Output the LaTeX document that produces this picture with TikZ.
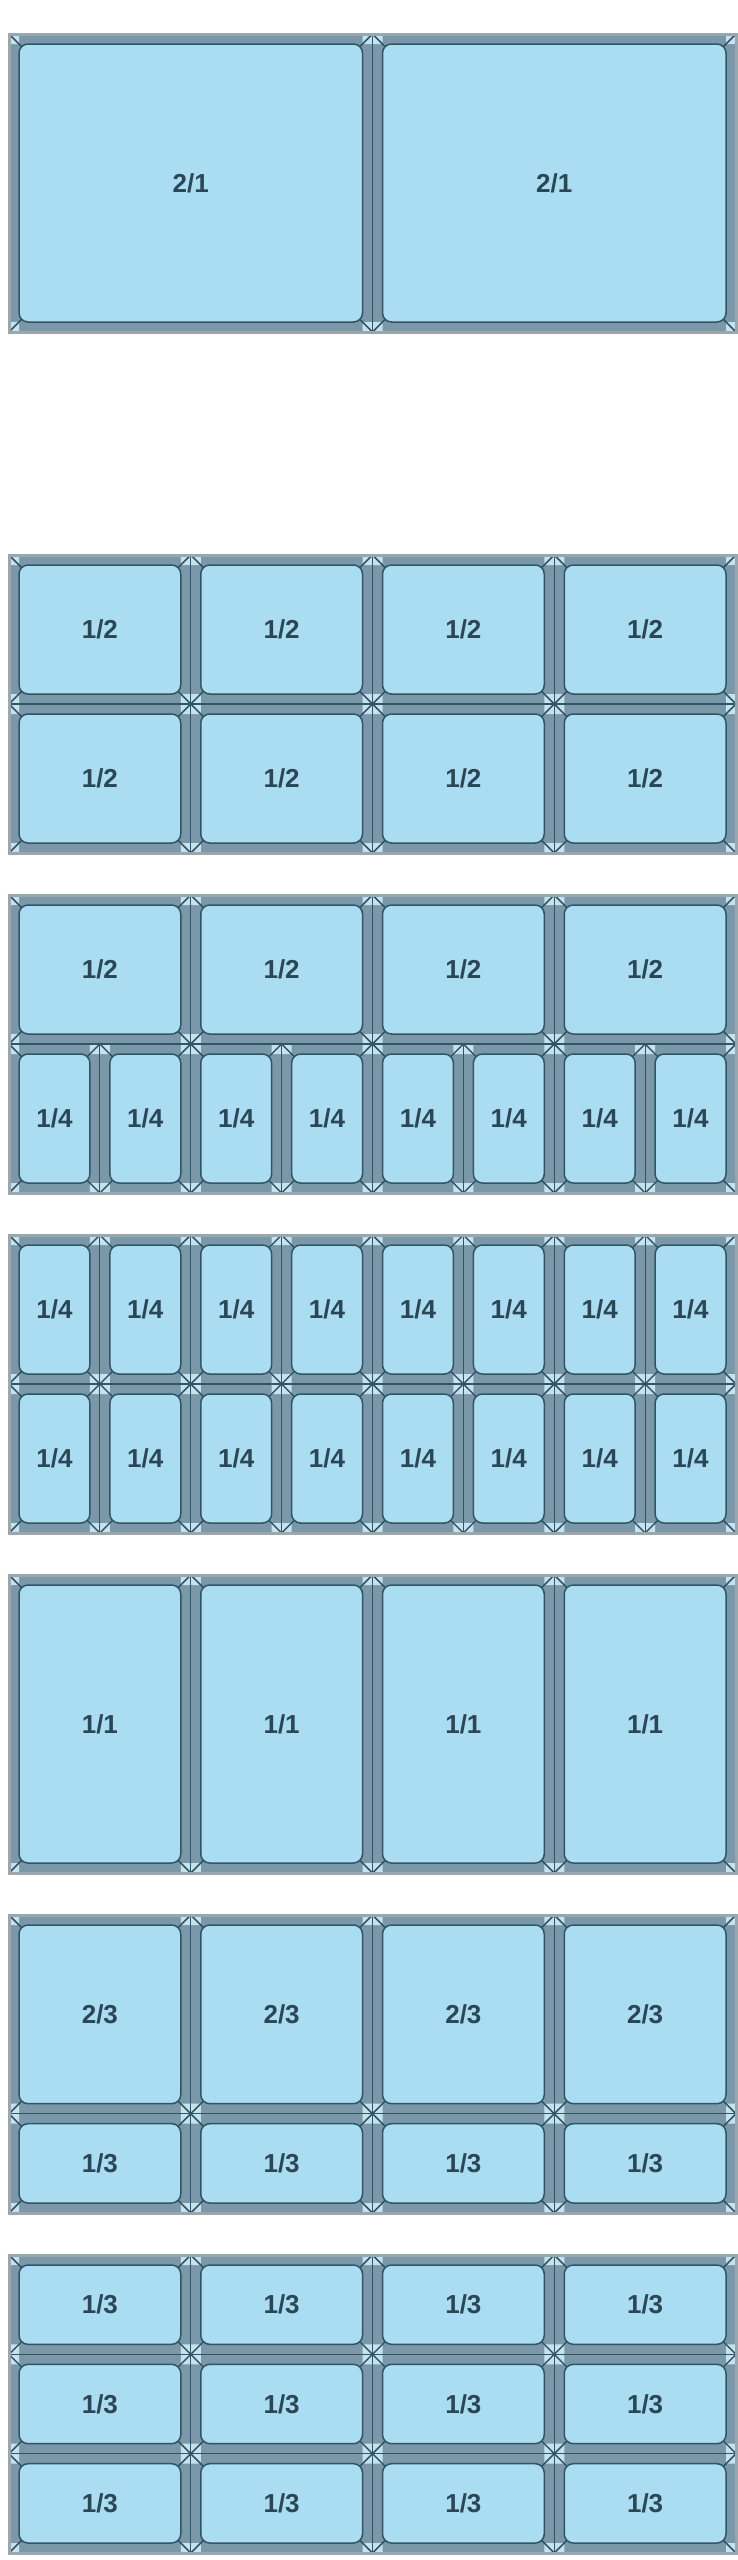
\documentclass[tikz,border=0pt]{standalone}
\usepackage{fontspec}
\setsansfont{Liberation Sans}

\definecolor{panblue}{HTML}{AADCF2}
\definecolor{rimgray}{HTML}{7B98A8}
\definecolor{flangelight}{HTML}{C6E2EE}
\definecolor{edgedark}{HTML}{2F5566}
\definecolor{edgegray}{HTML}{9AA7AE}
\definecolor{labelgray}{HTML}{2B4654}

\tikzset{every picture/.style={line width=0.75pt}}
\tikzset{
	rim/.style={fill=rimgray},
	flange/.style={fill=flangelight},
	cornerline/.style={draw=edgedark, line width=1.5pt},
	basin/.style={draw=edgedark, fill=panblue, line width=1.5pt, rounded corners=9pt},
	divider/.style={draw=edgedark, line width=1.2pt},
	blockframe/.style={draw=edgegray, line width=3pt},
	gnlabel/.style={font=\sffamily\bfseries\fontsize{26}{28}\selectfont, text=labelgray}
}

% one pan: x, y, width, height, label, node name
\newcommand{\gnpan}[6]{%
	\begin{scope}[shift={(#1,#2)}]
		\fill[rim] (0,0) rectangle (#3,#4);
		\fill[flange] (0,0) rectangle (10,10) (#3,0) rectangle ++(-10,10) (0,#4) rectangle ++(10,-10) (#3,#4) rectangle ++(-10,-10);
		\draw[cornerline] (0,0) -- (14,14) (#3,0) -- ++(-14,14) (0,#4) -- ++(14,-14) (#3,#4) -- ++(-14,-14);
		\draw[basin] (10,10) rectangle ({#3-10},{#4-10});
		\draw[divider] (0,0) rectangle (#3,#4);
		\node[gnlabel] (#6) at ({#3/2},{#4/2}) {#5};
	\end{scope}}

\begin{document}
\begin{tikzpicture}[x=1pt, y=-1pt]
	\fill[white] (0,0) rectangle (738,2560);
	\useasboundingbox (0,0) rectangle (738,2560);
	% 2/1
	\foreach \i in {0,1} \gnpan{9+\i*363.5}{34}{363.5}{298}{2/1}{a\i};
	\draw[blockframe] (9,34) rectangle (736,332);
	% 1/2 and 1/2
	\foreach \j in {0,1} \foreach \i in {0,...,3} \gnpan{9+\i*181.75}{555+\j*149}{181.75}{149}{1/2}{b\j\i};
	\draw[blockframe] (9,555) rectangle (736,853);
	% 1/2 and 1/4
	\foreach \i in {0,...,3} \gnpan{9+\i*181.75}{895}{181.75}{149}{1/2}{c\i};
	\foreach \i in {0,...,7} \gnpan{9+\i*90.875}{1044}{90.875}{149}{1/4}{d\i};
	\draw[blockframe] (9,895) rectangle (736,1193);
	% 1/4 and 1/4
	\foreach \j in {0,1} \foreach \i in {0,...,7} \gnpan{9+\i*90.875}{1235+\j*149}{90.875}{149}{1/4}{e\j\i};
	\draw[blockframe] (9,1235) rectangle (736,1533);
	% 1/1
	\foreach \i in {0,...,3} \gnpan{9+\i*181.75}{1575}{181.75}{298}{1/1}{f\i};
	\draw[blockframe] (9,1575) rectangle (736,1873);
	% 2/3 and 1/3
	\foreach \i in {0,...,3} \gnpan{9+\i*181.75}{1915}{181.75}{198.67}{2/3}{g\i};
	\foreach \i in {0,...,3} \gnpan{9+\i*181.75}{2113.67}{181.75}{99.33}{1/3}{h\i};
	\draw[blockframe] (9,1915) rectangle (736,2213);
	% 1/3 three rows
	\foreach \j in {0,1,2} \foreach \i in {0,...,3} \gnpan{9+\i*181.75}{2255+\j*99.33}{181.75}{99.33}{1/3}{k\j\i};
	\draw[blockframe] (9,2255) rectangle (736,2553);
\end{tikzpicture}
\end{document}
